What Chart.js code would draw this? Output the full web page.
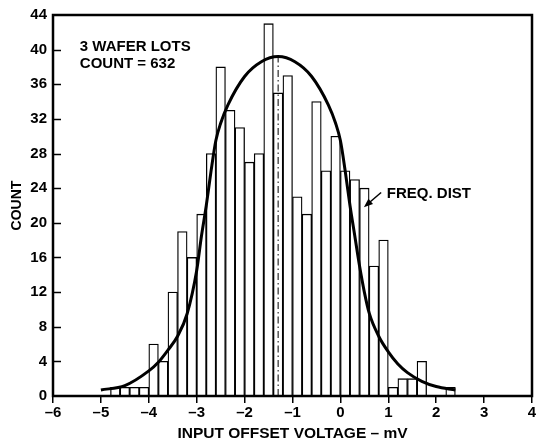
<!DOCTYPE html>
<html>
<head>
<meta charset="utf-8">
<script src="https://cdn.jsdelivr.net/npm/chart.js@4/dist/chart.umd.min.js"></script>
<style>
  body { margin: 0; background: #fff; }
  canvas { display: block; }
</style>
</head>
<body>
<canvas id="c" width="538" height="445"></canvas>
<script>
// histogram bins, 0.2 mV wide, given by their centre
const binCenters = [-4.7, -4.5, -4.3, -4.1, -3.9, -3.7, -3.5, -3.3, -3.1, -2.9,
  -2.7, -2.5, -2.3, -2.1, -1.9, -1.7, -1.5, -1.3, -1.1, -0.9,
  -0.7, -0.5, -0.3, -0.1, 0.1, 0.3, 0.5, 0.7, 0.9, 1.1,
  1.3, 1.5, 1.7, 1.9, 2.1, 2.3];
const binCounts = [1, 1, 1, 1, 6, 4, 12, 19, 16, 21,
  28, 38, 33, 31, 27, 28, 43, 35, 37, 23,
  21, 34, 26, 30, 26, 25, 24, 15, 18, 1,
  2, 2, 4, 0, 0, 1];

// frequency distribution curve
const curveX = [-5.0, -4.5, -4.0, -3.8, -3.6, -3.4, -3.2, -3.0, -2.9, -2.8, -2.7, -2.6, -2.5, -2.35,
  -2.0, -1.65, -1.3, -0.95, -0.6, -0.25, -0.1, 0.0, 0.1, 0.2, 0.3, 0.4, 0.5, 0.6,
  0.8, 1.0, 1.2, 1.4, 1.7, 2.0, 2.4];
const curveY = [0.7, 1.2, 2.9, 3.9, 5.3, 6.9, 9.5, 14.5, 18.5, 22, 26, 29.5, 31.5, 33.6,
  36.9, 38.6, 39.2, 38.6, 36.9, 33.6, 31.5, 29.5, 26, 22, 18.5, 15, 12, 9.6,
  6.9, 5.1, 3.7, 2.7, 1.7, 1.1, 0.7];

// mean marker (dash-dot)
const meanX = [-1.3, -1.3];
const meanY = [0, 39.6];

const xMin = -6, xMax = 4, yMin = 0, yMax = 44;

const FONT = '"Liberation Sans", Arial, Helvetica, sans-serif';

const dash = v => (v < 0 ? '\u2013' + Math.abs(v) : String(v));

const extras = {
  id: 'extras',
  afterDraw(chart) {
    const { ctx, chartArea: a, scales: { x, y } } = chart;
    ctx.save();
    // inner y ticks
    ctx.strokeStyle = '#000';
    ctx.lineWidth = 1.5;
    for (let v = 4; v < yMax; v += 4) {
      const py = Math.round(y.getPixelForValue(v)) + 0.5;
      ctx.beginPath();
      ctx.moveTo(a.left, py);
      ctx.lineTo(a.left + 8, py);
      ctx.stroke();
    }
    // frame
    ctx.lineWidth = 2.5;
    ctx.strokeRect(a.left, a.top, a.right - a.left, a.bottom - a.top);

    // texts
    ctx.fillStyle = '#000';
    ctx.font = 'bold 15px ' + FONT;
    ctx.textAlign = 'left';
    ctx.textBaseline = 'alphabetic';
    ctx.fillText('3 WAFER LOTS', x.getPixelForValue(-5.44), y.getPixelForValue(39.9));
    ctx.fillText('COUNT = 632', x.getPixelForValue(-5.44), y.getPixelForValue(37.85));
    ctx.fillText('FREQ. DIST', x.getPixelForValue(0.97), y.getPixelForValue(22.9));

    // arrow
    const x0 = x.getPixelForValue(0.85), y0 = y.getPixelForValue(23.5);
    const x1 = x.getPixelForValue(0.49), y1 = y.getPixelForValue(21.8);
    const ang = Math.atan2(y1 - y0, x1 - x0);
    ctx.lineWidth = 1.5;
    ctx.beginPath();
    ctx.moveTo(x0, y0);
    ctx.lineTo(x1 - 5 * Math.cos(ang), y1 - 5 * Math.sin(ang));
    ctx.stroke();
    ctx.beginPath();
    ctx.moveTo(x1, y1);
    ctx.lineTo(x1 - 9 * Math.cos(ang) + 3.5 * Math.sin(ang), y1 - 9 * Math.sin(ang) - 3.5 * Math.cos(ang));
    ctx.lineTo(x1 - 9 * Math.cos(ang) - 3.5 * Math.sin(ang), y1 - 9 * Math.sin(ang) + 3.5 * Math.cos(ang));
    ctx.closePath();
    ctx.fill();
    ctx.restore();
  }
};

new Chart(document.getElementById('c'), {
  type: 'bar',
  data: {
    datasets: [
      {
        type: 'line',
        data: curveX.map((v, i) => ({ x: v, y: curveY[i] })),
        borderColor: '#000',
        borderWidth: 3,
        pointRadius: 0,
        cubicInterpolationMode: 'monotone',
        order: 0
      },
      {
        type: 'line',
        data: meanX.map((v, i) => ({ x: v, y: meanY[i] })),
        borderColor: '#000',
        borderWidth: 1,
        borderDash: [7, 3, 1.5, 3],
        pointRadius: 0,
        order: 1
      },
      {
        type: 'bar',
        data: binCenters.map((v, i) => ({ x: v, y: binCounts[i] })),
        backgroundColor: '#fff',
        borderColor: '#000',
        borderWidth: 1.3,
        barPercentage: 1,
        categoryPercentage: 1,
        grouped: false,
        order: 2
      }
    ]
  },
  options: {
    responsive: false,
    animation: false,
    layout: { padding: { left: 0, top: 11, right: 6, bottom: 0 } },
    plugins: { legend: { display: false }, tooltip: { enabled: false } },
    scales: {
      x: {
        type: 'linear',
        min: xMin,
        max: xMax,
        offset: false,
        grid: { display: true, offset: false, drawOnChartArea: false, drawTicks: true, tickLength: 7, color: '#000', lineWidth: 1.5 },
        border: { display: false },
        ticks: {
          stepSize: 1,
          padding: 1,
          color: '#000',
          font: { family: FONT, size: 15, weight: 'bold' },
          maxRotation: 0,
          callback: dash
        },
        title: {
          display: true,
          text: 'INPUT OFFSET VOLTAGE \u2013 mV',
          color: '#000',
          font: { family: FONT, size: 15.5, weight: 'bold' },
          padding: { top: 0, bottom: 2 }
        },
        afterFit(scale) { scale.height = 49; }
      },
      y: {
        min: yMin,
        max: yMax,
        grid: { display: false, drawTicks: false },
        border: { display: false },
        ticks: {
          stepSize: 4,
          padding: 6,
          color: '#000',
          font: { family: FONT, size: 15, weight: 'bold' }
        },
        title: {
          display: true,
          text: 'COUNT',
          color: '#000',
          font: { family: FONT, size: 14, weight: 'bold' },
          padding: { top: 9, bottom: 0 }
        },
        afterFit(scale) { scale.width = 53; }
      }
    }
  },
  plugins: [extras]
});
</script>
</body>
</html>
